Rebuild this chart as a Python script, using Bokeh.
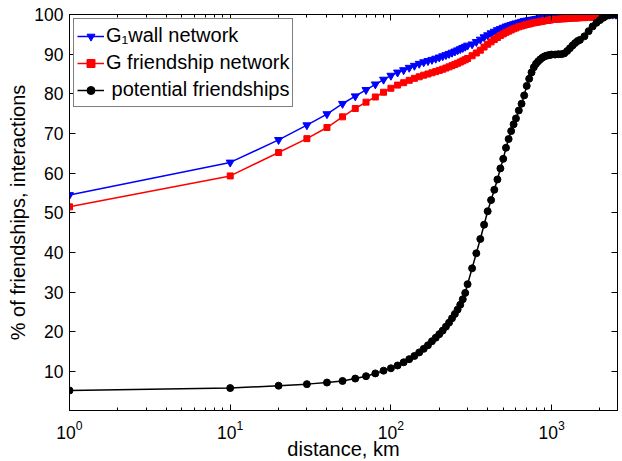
from bokeh.plotting import figure
from bokeh.models import Range1d, FixedTicker, LogAxis, LinearAxis
from bokeh.embed import file_html
from bokeh.resources import INLINE

distance_km = [1, 10, 20, 30, 40, 50, 60, 70, 80, 90, 100, 110, 120, 130, 140, 150, 160, 170, 180, 190,
               200, 210, 220, 230, 240, 250, 260, 270, 280, 290, 300, 320, 340, 360, 380, 400, 420, 440, 460, 480,
               500, 520, 540, 560, 580, 600, 625, 650, 675, 700, 725, 750, 775, 800, 825, 850, 875, 900, 925, 950,
               975, 1000, 1050, 1100, 1150, 1200, 1250, 1300, 1350, 1400, 1450, 1500, 1600, 1700, 1800, 1900, 2000,
               2100, 2200, 2300, 2400, 2500, 2550]

wall_network = [54.5, 62.7, 68.4, 72.1, 74.9, 77.5, 79.4, 81.0, 82.4, 83.6, 84.6, 85.4, 86.0, 86.6, 87.1, 87.6, 88.0, 88.3, 88.6, 88.9,
                89.2, 89.5, 89.8, 90.1, 90.4, 90.7, 91.0, 91.3, 91.6, 91.9, 92.2, 92.5, 93.1, 93.7, 94.3, 94.8, 95.3, 95.7, 96.1, 96.4,
                96.7, 97.0, 97.2, 97.4, 97.6, 97.8, 98.0, 98.2, 98.4, 98.5, 98.6, 98.7, 98.8, 98.9, 99.0, 99.1, 99.1, 99.2, 99.2, 99.3,
                99.3, 99.4, 99.4, 99.5, 99.5, 99.5, 99.5, 99.6, 99.6, 99.6, 99.6, 99.6, 99.6, 99.7, 99.7, 99.7, 99.8,
                99.8, 99.9, 100.0, 100.0, 100.0, 100.0]

friendship_network = [51.5, 59.3, 65.2, 68.7, 71.5, 74.2, 76.3, 77.9, 79.2, 80.4, 81.4, 82.2, 82.8, 83.4, 83.9, 84.3, 84.7, 85.0, 85.3, 85.6,
                      85.9, 86.2, 86.5, 86.8, 87.1, 87.4, 87.7, 88.0, 88.3, 88.6, 88.9, 89.6, 90.3, 91.0, 91.8, 92.5, 93.1, 93.7, 94.2, 94.7,
                      95.1, 95.5, 95.8, 96.1, 96.4, 96.6, 96.9, 97.1, 97.3, 97.5, 97.6, 97.8, 97.9, 98.0, 98.1, 98.2, 98.3, 98.4, 98.5, 98.5,
                      98.6, 98.7, 98.8, 98.8, 98.9, 98.9, 99.0, 99.0, 99.1, 99.1, 99.1, 99.2, 99.2, 99.3, 99.3, 99.4, 99.4,
                      99.5, 99.7, 99.9, 100.0, 100.0, 100.0]

potential_friendships = [5.2, 5.8, 6.4, 6.8, 7.2, 7.6, 8.2, 8.8, 9.5, 10.2, 10.8, 11.5, 12.3, 13.1, 13.9, 14.8, 15.7, 16.6, 17.6, 18.5,
                         19.4, 20.3, 21.3, 22.3, 23.4, 24.5, 25.6, 26.8, 28.2, 29.8, 32.0, 36.0, 39.8, 43.4, 47.0, 50.4, 53.2, 55.8, 58.4, 61.2,
                         63.6, 66.4, 68.6, 70.6, 72.3, 73.8, 75.8, 77.5, 79.6, 82.0, 83.8, 85.4, 86.7, 87.6, 88.2, 88.7, 89.1, 89.4, 89.6, 89.7,
                         89.8, 89.9, 89.9, 90.0, 90.0, 90.2, 90.8, 91.5, 92.2, 92.8, 93.3, 93.6, 94.5, 95.8, 97.0, 97.9, 98.6,
                         99.2, 99.7, 99.9, 100.0, 100.0, 100.0]

x_major_ticks = [1, 10, 100, 1000]
x_minor_ticks = [2, 3, 4, 5, 6, 7, 8, 9, 20, 30, 40, 50, 60, 70, 80, 90,
                 200, 300, 400, 500, 600, 700, 800, 900, 2000]
y_ticks = [10, 20, 30, 40, 50, 60, 70, 80, 90, 100]

FONT = "Liberation Sans"

p = figure(width=622, height=462, x_axis_type="log",
           x_range=Range1d(1, 2570), y_range=Range1d(0.15, 100),
           output_backend="svg", toolbar_location=None,
           min_border_left=69, min_border_right=5, min_border_top=14, min_border_bottom=40)
p.grid.visible = False
p.outline_line_color = "black"
p.outline_line_width = 1
p.background_fill_color = "white"
p.border_fill_color = "white"

p.xaxis.ticker = FixedTicker(ticks=x_major_ticks, minor_ticks=x_minor_ticks)
p.yaxis.ticker = FixedTicker(ticks=y_ticks)
for ax in (p.xaxis[0], p.yaxis[0]):
    ax.axis_line_color = "black"
    ax.major_tick_line_color = "black"
    ax.major_tick_in = 6
    ax.major_tick_out = 0
    ax.minor_tick_in = 3
    ax.minor_tick_out = 0
    ax.major_label_text_font = FONT
    ax.major_label_text_font_size = "17.5px"
    ax.major_label_text_color = "black"
    ax.axis_label_text_font = FONT
    ax.axis_label_text_font_size = "20px"
    ax.axis_label_text_font_style = "normal"
    ax.axis_label_text_color = "black"
p.yaxis.minor_tick_line_color = None
p.xaxis.axis_label = "distance, km"
p.yaxis.axis_label = "% of friendships, interactions"
p.xaxis.major_label_standoff = 9
p.xaxis.axis_label_standoff = -4
p.yaxis.major_label_standoff = 6
p.yaxis.axis_label_standoff = 2

top_axis = LogAxis(ticker=FixedTicker(ticks=x_major_ticks, minor_ticks=x_minor_ticks),
                   major_tick_in=6, major_tick_out=0, minor_tick_in=3, minor_tick_out=0,
                   major_label_text_font_size="1px", major_label_text_alpha=0.0, major_label_standoff=0,
                   axis_line_color="black", major_tick_line_color="black", minor_tick_line_color="black")
right_axis = LinearAxis(ticker=FixedTicker(ticks=y_ticks),
                        major_tick_in=6, major_tick_out=0, minor_tick_line_color=None,
                        major_label_text_font_size="1px", major_label_text_alpha=0.0, major_label_standoff=0,
                        axis_line_color="black", major_tick_line_color="black")
p.add_layout(top_axis, "above")
p.add_layout(right_axis, "right")

p.line(distance_km, wall_network, color="#0000FF", line_width=1.5, legend_label="G\u2081wall network")
p.scatter(distance_km, wall_network, marker="inverted_triangle", size=8, color="#0000FF",
          legend_label="G\u2081wall network")
p.line(distance_km, friendship_network, color="#FF0000", line_width=1.5, legend_label="G friendship network")
p.scatter(distance_km, friendship_network, marker="square", size=6, color="#FF0000",
          legend_label="G friendship network")
p.line(distance_km, potential_friendships, color="black", line_width=1.5, legend_label=" potential friendships")
p.scatter(distance_km, potential_friendships, marker="circle", size=7, color="black",
          legend_label=" potential friendships")

lg = p.legend[0]
lg.location = "top_left"
lg.margin = 4
lg.padding = 3
lg.spacing = 0
lg.label_height = 27
lg.glyph_height = 20
lg.glyph_width = 27
lg.label_standoff = 2
lg.label_text_font = FONT
lg.label_text_font_size = "20px"
lg.label_text_color = "black"
lg.border_line_color = "black"
lg.border_line_width = 1
lg.background_fill_color = "white"
lg.background_fill_alpha = 1.0

open("out.html", "w").write(file_html(p, INLINE))
